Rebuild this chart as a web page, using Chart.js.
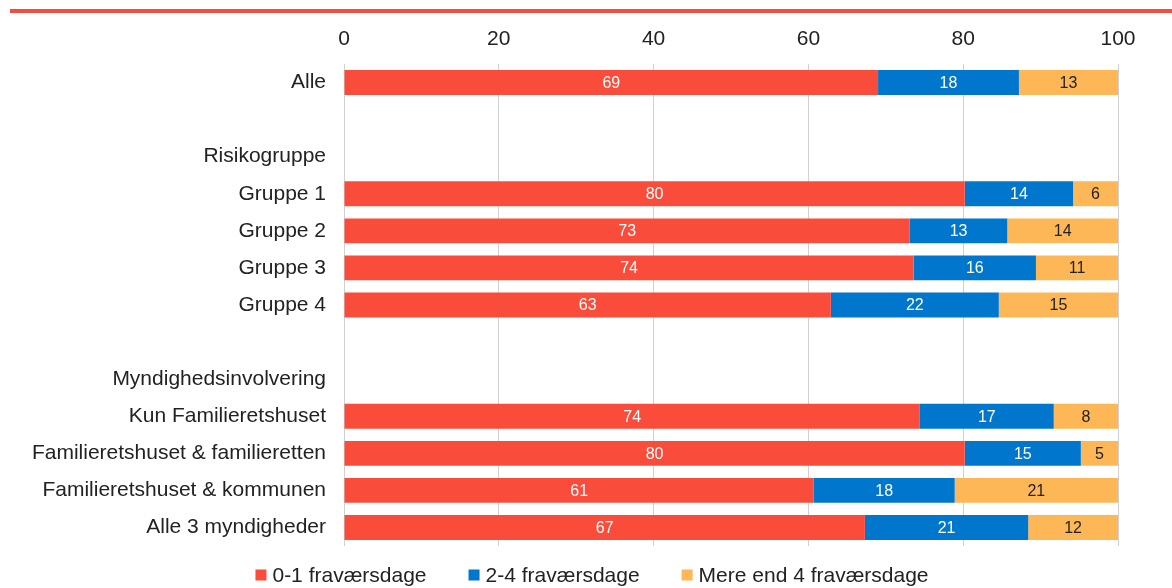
<!DOCTYPE html>
<html>
<head>
<meta charset="utf-8">
<script src="https://cdn.jsdelivr.net/npm/chart.js@4"></script>
<style>
  html, body { margin: 0; padding: 0; background: #fff; }
  #wrap { position: relative; width: 1172px; height: 588px; }
  #topline { position: absolute; left: 10px; top: 9px; width: 1162px; height: 4px; background: #f84c3b; }
  #chart { position: absolute; left: 0; top: 0; }
</style>
</head>
<body>
<div id="wrap">
  <div id="topline"></div>
  <canvas id="chart" width="1172" height="588"></canvas>
</div>
<script>
// ---- data (percent of children) ----
const categories = [
  'Alle', '', 'Risikogruppe', 'Gruppe 1', 'Gruppe 2', 'Gruppe 3', 'Gruppe 4',
  '', 'Myndighedsinvolvering', 'Kun Familieretshuset',
  'Familieretshuset & familieretten', 'Familieretshuset & kommunen', 'Alle 3 myndigheder'
];
const seriesNames = ['0-1 fraværsdage', '2-4 fraværsdage', 'Mere end 4 fraværsdage'];
const low  = [69.0, null, null, 80.2, 73.1, 73.6, 62.9, null, null, 74.4, 80.2, 60.7, 67.3];
const mid  = [18.2, null, null, 14.0, 12.6, 15.8, 21.7, null, null, 17.3, 15.0, 18.2, 21.1];
const high = [12.8, null, null,  5.8, 14.3, 10.6, 15.4, null, null,  8.3,  4.8, 21.1, 11.6];
const xTicks = [0, 20, 40, 60, 80, 100];

const colors = ['#f94c3b', '#0077cc', '#fdb757'];
const labelColors = ['#ffffff', '#ffffff', '#222222'];
const FONT = '"Liberation Sans", Arial, sans-serif';

// values printed in the middle of each segment
const segmentLabels = {
  id: 'segmentLabels',
  afterDatasetsDraw(chart) {
    const ctx = chart.ctx;
    ctx.save();
    ctx.font = '16px ' + FONT;
    ctx.textAlign = 'center';
    ctx.textBaseline = 'middle';
    chart.data.datasets.forEach((ds, i) => {
      chart.getDatasetMeta(i).data.forEach((bar, j) => {
        const v = ds.data[j];
        if (v == null) return;
        ctx.fillStyle = labelColors[i];
        ctx.fillText(Math.round(v), (bar.x + bar.base) / 2, bar.y + 1);
      });
    });
    ctx.restore();
  }
};

// bottom legend with wider gaps than the built-in one allows
const bottomLegend = {
  id: 'bottomLegend',
  afterDraw(chart) {
    const ctx = chart.ctx;
    const box = 11, gapBox = 6, gapItem = 42, cy = 575;
    ctx.save();
    ctx.font = '21px ' + FONT;
    ctx.textBaseline = 'middle';
    const items = chart.data.datasets.map(ds => ({ text: ds.label, color: ds.backgroundColor, w: ctx.measureText(ds.label).width }));
    const total = items.reduce((s, it) => s + box + gapBox + it.w, 0) + gapItem * (items.length - 1);
    let x = 592 - total / 2;
    items.forEach(it => {
      ctx.fillStyle = it.color;
      ctx.fillRect(x, cy - box / 2, box, box);
      x += box + gapBox;
      ctx.fillStyle = '#222';
      ctx.fillText(it.text, x, cy + 1);
      x += it.w + gapItem;
    });
    ctx.restore();
  }
};

const datasets = [low, mid, high].map((d, i) => ({
  label: seriesNames[i],
  data: d,
  backgroundColor: colors[i],
  borderWidth: 0,
  barPercentage: 0.67,
  categoryPercentage: 1.0,
}));

new Chart(document.getElementById('chart'), {
  type: 'bar',
  data: { labels: categories, datasets },
  plugins: [segmentLabels, bottomLegend],
  options: {
    indexAxis: 'y',
    responsive: false,
    animation: false,
    layout: { padding: { top: 0, right: 54, bottom: 42, left: 0 } },
    scales: {
      x: {
        position: 'top',
        stacked: true,
        min: 0, max: 100,
        afterBuildTicks: s => { s.ticks = xTicks.map(v => ({ value: v })); },
        afterFit: s => { s.height = 64; },
        grid: { color: '#d0d0d0', lineWidth: 1, drawTicks: false },
        border: { display: false },
        ticks: { color: '#222', font: { family: FONT, size: 21 }, padding: 12 },
      },
      y: {
        stacked: true,
        afterFit: s => { s.width = 344; },
        grid: { display: false },
        border: { display: false },
        ticks: { color: '#222', font: { family: FONT, size: 21 }, padding: 10, autoSkip: false },
      },
    },
    plugins: {
      legend: { display: false },
      tooltip: { enabled: false },
    },
  },
});
</script>
</body>
</html>
